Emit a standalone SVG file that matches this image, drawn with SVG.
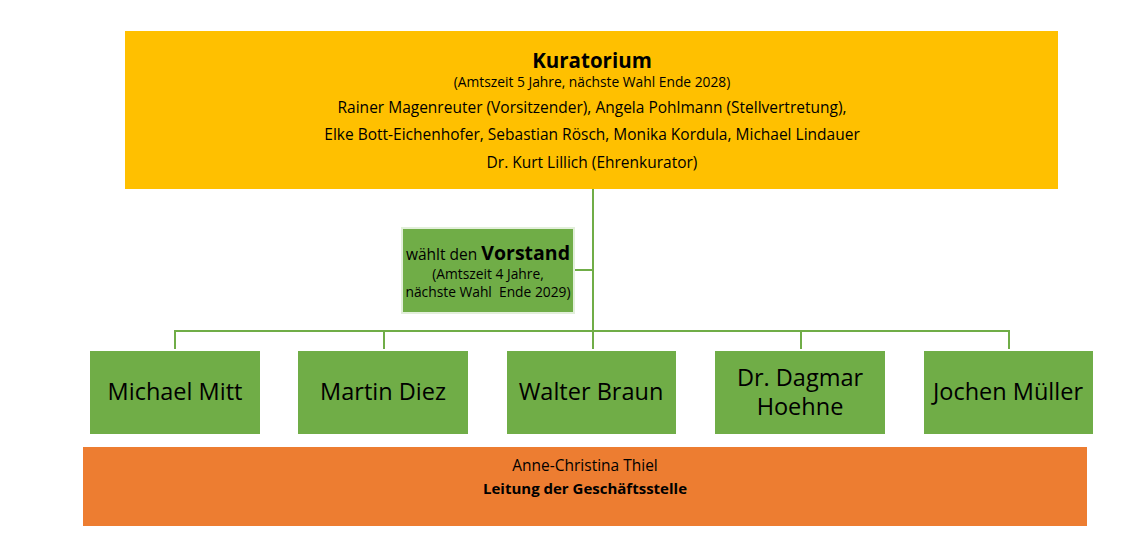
<svg xmlns="http://www.w3.org/2000/svg" width="1126" height="534" viewBox="0 0 1126 534">
<style>
text{font-family:"Open Sans","Noto Sans","Liberation Sans",sans-serif;fill:#000;text-anchor:middle}
.k{font-size:15.5px}
.s{font-size:13.8px}
.n{font-size:23.5px}
.c{stroke:#70AD47;stroke-width:2;fill:none}
.g{fill:#70AD47}
</style>
<rect width="1126" height="534" fill="#fff"/>
<g id="connectors">
<path class="c" d="M593 189V349M574 270H593M175 349V331H1009V349M384 331V349M801 331V349"/>
</g>
<g id="kuratorium">
<rect x="125" y="31" width="933" height="158" fill="#FFC000"/>
<text x="592" y="68" style="font-size:20.5px;font-weight:bold">Kuratorium</text>
<text x="592" y="87" class="s">(Amtszeit 5 Jahre, nächste Wahl Ende 2028)</text>
<text x="592" y="113" class="k">Rainer Magenreuter (Vorsitzender), Angela Pohlmann (Stellvertretung),</text>
<text x="592" y="140" class="k">Elke Bott-Eichenhofer, Sebastian Rösch, Monika Kordula, Michael Lindauer</text>
<text x="592" y="168" class="k">Dr. Kurt Lillich (Ehrenkurator)</text>
</g>
<g id="vorstand">
<rect x="402" y="228" width="172" height="85" class="g" stroke="#E2EFDA" stroke-width="2"/>
<text x="488" y="260"><tspan style="font-size:15.5px">wählt den </tspan><tspan style="font-size:19.5px;font-weight:bold">Vorstand</tspan></text>
<text x="488" y="279" class="s">(Amtszeit 4 Jahre,</text>
<text x="488" y="297" class="s" xml:space="preserve">nächste Wahl  Ende 2029)</text>
</g>
<g id="mitt">
<rect x="90" y="351" width="170" height="83" class="g"/>
<text x="175" y="400" class="n">Michael Mitt</text>
</g>
<g id="diez">
<rect x="298" y="351" width="170" height="83" class="g"/>
<text x="383" y="400" class="n">Martin Diez</text>
</g>
<g id="braun">
<rect x="507" y="351" width="169" height="83" class="g"/>
<text x="591" y="400" class="n">Walter Braun</text>
</g>
<g id="hoehne">
<rect x="715" y="351" width="170" height="83" class="g"/>
<text class="n"><tspan x="800" y="386">Dr. Dagmar</tspan><tspan x="800" y="415">Hoehne</tspan></text>
</g>
<g id="mueller">
<rect x="924" y="351" width="169" height="83" class="g"/>
<text x="1008" y="400" class="n">Jochen Müller</text>
</g>
<g id="geschaeftsstelle">
<rect x="83" y="447" width="1004" height="79" fill="#ED7D31"/>
<text x="585" y="471" class="k">Anne-Christina Thiel</text>
<text x="585" y="494" style="font-size:15px;font-weight:bold">Leitung der Geschäftsstelle</text>
</g>
</svg>
